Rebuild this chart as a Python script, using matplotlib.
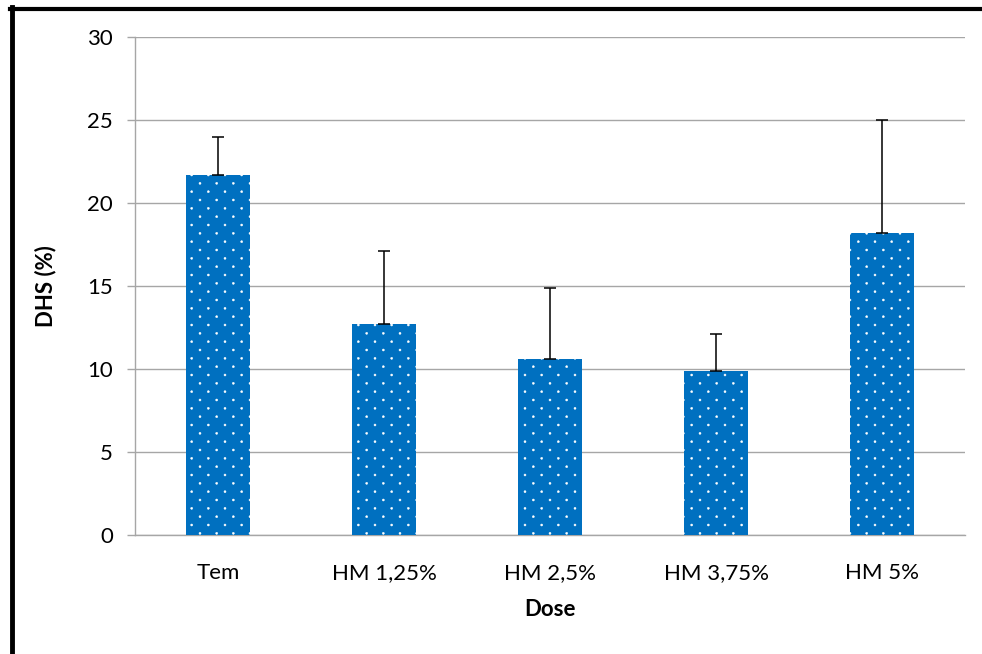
import numpy as np
import matplotlib
matplotlib.use("Agg")
import matplotlib.pyplot as plt
from matplotlib import hatch as mhatch
from matplotlib.path import Path
from matplotlib.lines import Line2D

# Data
doses = ["Tem", "HM 1,25%", "HM 2,5%", "HM 3,75%", "HM 5%"]
dhs_mean = [21.7, 12.7, 10.6, 9.9, 18.2]
dhs_err = [2.3, 4.4, 4.3, 2.2, 6.8]
y_ticks = [0, 5, 10, 15, 20, 25, 30]


class DotLattice(mhatch.HatchPatternBase):
    """Staggered fine dot texture: dots every 1/n horizontally,
    rows every 1/(2n), alternate rows shifted by half a step."""
    size = 0.06

    def __init__(self, hatch, density):
        self.n = hatch.count('.') * density
        circ = Path.unit_circle()
        self.shape_vertices = circ.vertices
        self.shape_codes = circ.codes
        n = self.n
        self.num_shapes = (n + 1) * (n + 1) + n * n if n else 0
        self.num_vertices = self.num_shapes * len(self.shape_vertices)

    def set_vertices_and_codes(self, vertices, codes):
        n = self.n
        step = 1.0 / n
        shape = self.shape_vertices * step * self.size
        nv = len(shape)
        cursor = 0
        for row in range(2 * n + 1):
            y = row * step / 2
            if row % 2 == 0:
                xs = np.linspace(0, 1, n + 1)
            else:
                xs = np.linspace(step / 2, 1 - step / 2, n)
            for x in xs:
                vertices[cursor:cursor + nv] = shape + (x, y)
                codes[cursor:cursor + nv] = self.shape_codes
                cursor += nv


mhatch._hatch_types = [DotLattice if t is mhatch.SmallFilledCircles else t
                       for t in mhatch._hatch_types]

plt.rcParams['font.family'] = ['Lato', 'DejaVu Sans']
plt.rcParams['hatch.linewidth'] = 0.35
plt.rcParams['hatch.color'] = 'white'

fig = plt.figure(figsize=(9.82, 6.54), dpi=100)
ax = fig.add_axes([0.1375, 0.182, 0.8452, 0.7615])

x = np.arange(len(doses))
ax.bar(x, dhs_mean, width=0.39, color='#0070C0', edgecolor='white',
       linewidth=0, hatch='.', zorder=3)
ax.errorbar(x, dhs_mean, yerr=[np.zeros(len(dhs_err)), dhs_err], fmt='none',
            ecolor='black', elinewidth=1.1, capsize=4.5, capthick=1.1, zorder=4)

ax.set_xlim(-0.5, len(doses) - 0.5)
ax.set_ylim(0, 30)
ax.set_yticks(y_ticks)
ax.set_xticks(x)
ax.set_xticklabels(doses)
ax.yaxis.grid(True, color='#A6A6A6', linewidth=1.0, zorder=0)
ax.set_axisbelow(True)

for s in ['top', 'right']:
    ax.spines[s].set_visible(False)
for s in ['left', 'bottom']:
    ax.spines[s].set_color('#A6A6A6')
    ax.spines[s].set_linewidth(1.0)

ax.tick_params(axis='y', length=6, width=1.0, color='#A6A6A6',
               labelsize=16, pad=10)
ax.tick_params(axis='x', length=0, labelsize=16, pad=20)

ax.set_ylabel('DHS (%)', fontsize=16, fontweight='bold', labelpad=22)
ax.set_xlabel('Dose', fontsize=16, fontweight='bold', labelpad=12)

# Outer frame (left and top edges)
fig.add_artist(Line2D([11.5 / 982, 11.5 / 982], [0, 1 - 7 / 654],
                      transform=fig.transFigure, color='black', linewidth=3.5))
fig.add_artist(Line2D([9.5 / 982, 1], [1 - 8.5 / 654, 1 - 8.5 / 654],
                      transform=fig.transFigure, color='black', linewidth=3.0))

fig.savefig('out.png', dpi=100)
